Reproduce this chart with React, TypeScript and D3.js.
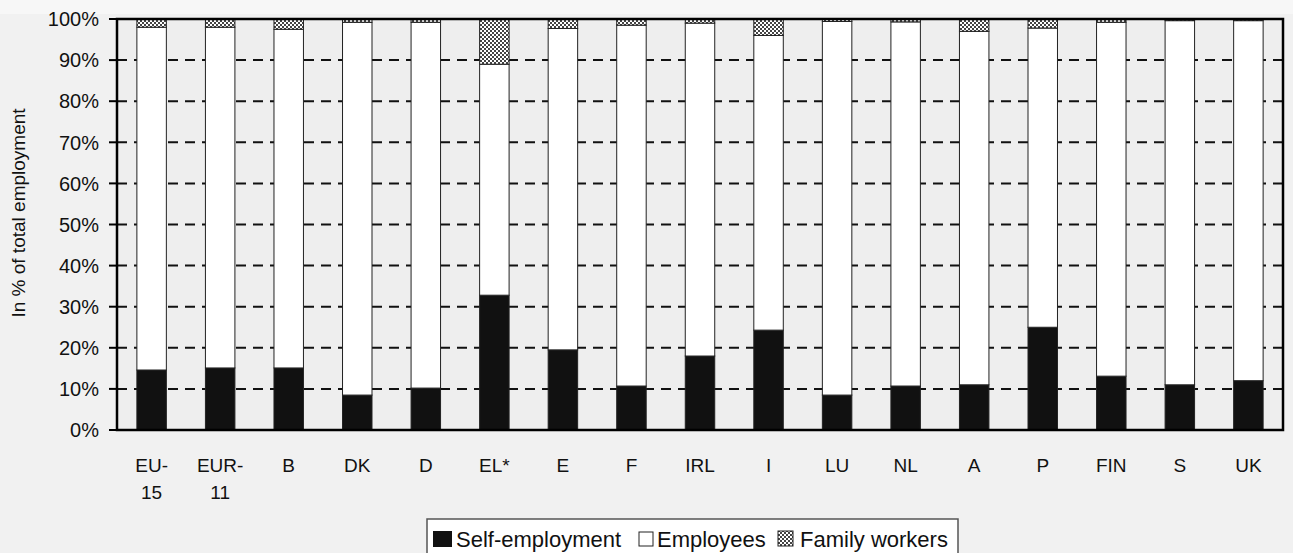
import * as d3 from "d3";

const categories = ["EU-15", "EUR-11", "B", "DK", "D", "EL*", "E", "F", "IRL", "I", "LU", "NL", "A", "P", "FIN", "S", "UK"];
const selfEmployment = [14.6, 15.1, 15.1, 8.5, 10.2, 32.8, 19.5, 10.7, 18.0, 24.3, 8.5, 10.7, 11.0, 25.0, 13.1, 11.0, 12.0];
const familyWorkers = [2.0, 2.0, 2.5, 0.8, 0.8, 11.0, 2.3, 1.5, 1.0, 4.0, 0.6, 0.7, 3.0, 2.2, 0.8, 0.4, 0.4];
const employees = categories.map((_, i) => 100 - selfEmployment[i] - familyWorkers[i]);
const yTicks = [0, 10, 20, 30, 40, 50, 60, 70, 80, 90, 100];

const W = 1293;
const H = 553;
const M = { left: 117, right: 1283, top: 19, bottom: 430 };
const FONT = "'Liberation Sans', Arial, Helvetica, sans-serif";

export default function App() {
  const x = d3.scaleBand<string>().domain(categories).range([M.left, M.right]).paddingInner(0.57).paddingOuter(0.29);
  const y = d3.scaleLinear().domain([0, 100]).range([M.bottom, M.top]);

  const rows = categories.map((c, i) => ({
    cat: c,
    segs: [
      { key: "self", y0: 0, y1: selfEmployment[i] },
      { key: "emp", y0: selfEmployment[i], y1: selfEmployment[i] + employees[i] },
      { key: "fam", y0: selfEmployment[i] + employees[i], y1: 100 },
    ],
  }));

  const fillFor = (k: string) => (k === "self" ? "#111" : k === "emp" ? "#fff" : "url(#hatch)");

  return (
    <svg width={W} height={H} style={{ position: "absolute", left: 0, top: 0, fontFamily: FONT }}>
      <defs>
        <pattern id="hatch" width="4" height="4" patternUnits="userSpaceOnUse">
          <rect width="4" height="4" fill="#fff" />
          <rect width="2" height="2" fill="#444" />
          <rect x="2" y="2" width="2" height="2" fill="#444" />
        </pattern>
      </defs>
      <rect width={W} height={H} fill="#f1f1f1" />
      <rect width={W} height={14} fill="#f7f7f7" />
      <rect x={M.left} y={M.top} width={M.right - M.left} height={M.bottom - M.top} fill="#eeeeee" />

      {/* gridlines */}
      {yTicks.filter((t) => t > 0 && t < 100).map((t) => (
        <line key={t} x1={M.left} x2={M.right} y1={y(t)} y2={y(t)} stroke="#111" strokeWidth={2} strokeDasharray="10 7" />
      ))}

      {/* bars */}
      {rows.map((r) => (
        <g key={r.cat}>
          {r.segs.map((s) => (
            <rect
              key={s.key}
              x={x(r.cat)!}
              y={y(s.y1)}
              width={x.bandwidth()}
              height={y(s.y0) - y(s.y1)}
              fill={fillFor(s.key)}
              stroke="#222"
              strokeWidth={1}
            />
          ))}
        </g>
      ))}

      {/* frame */}
      <rect x={M.left} y={M.top} width={M.right - M.left} height={M.bottom - M.top} fill="none" stroke="#000" strokeWidth={2.5} />

      {yTicks.map((t) => (
        <g key={t}>
          <line x1={M.left - 8} x2={M.left} y1={y(t)} y2={y(t)} stroke="#000" strokeWidth={2} />
          <text x={99} y={y(t)} dy="0.36em" textAnchor="end" fontSize={20} fill="#111">
            {t}%
          </text>
        </g>
      ))}

      {categories.map((c) => {
        const parts = c.includes("-") ? [c.split("-")[0] + "-", c.split("-")[1]] : [c];
        const cx = x(c)! + x.bandwidth() / 2;
        return (
          <text key={c} x={cx} y={472} textAnchor="middle" fontSize={19} fill="#111">
            {parts.map((p, i) => (
              <tspan key={i} x={cx} dy={i === 0 ? 0 : 27}>
                {p}
              </tspan>
            ))}
          </text>
        );
      })}

      <text transform={`translate(25,213) rotate(-90)`} textAnchor="middle" fontSize={19} fill="#111">
        In % of total employment
      </text>

      {/* legend */}
      <g>
        <rect x={427} y={519} width={531} height={40} fill="#fff" stroke="#555" strokeWidth={1.5} />
        <rect x={433} y={531} width={19} height={16} fill="#111" />
        <text x={456} y={547} fontSize={22} fill="#111">Self-employment</text>
        <rect x={639} y={532} width={14} height={14} fill="#fff" stroke="#222" strokeWidth={1} />
        <text x={657} y={547} fontSize={22} fill="#111">Employees</text>
        <rect x={778} y={531} width={15} height={15} fill="url(#hatch)" stroke="#222" strokeWidth={1} />
        <text x={800} y={547} fontSize={22} fill="#111">Family workers</text>
      </g>
    </svg>
  );
}
